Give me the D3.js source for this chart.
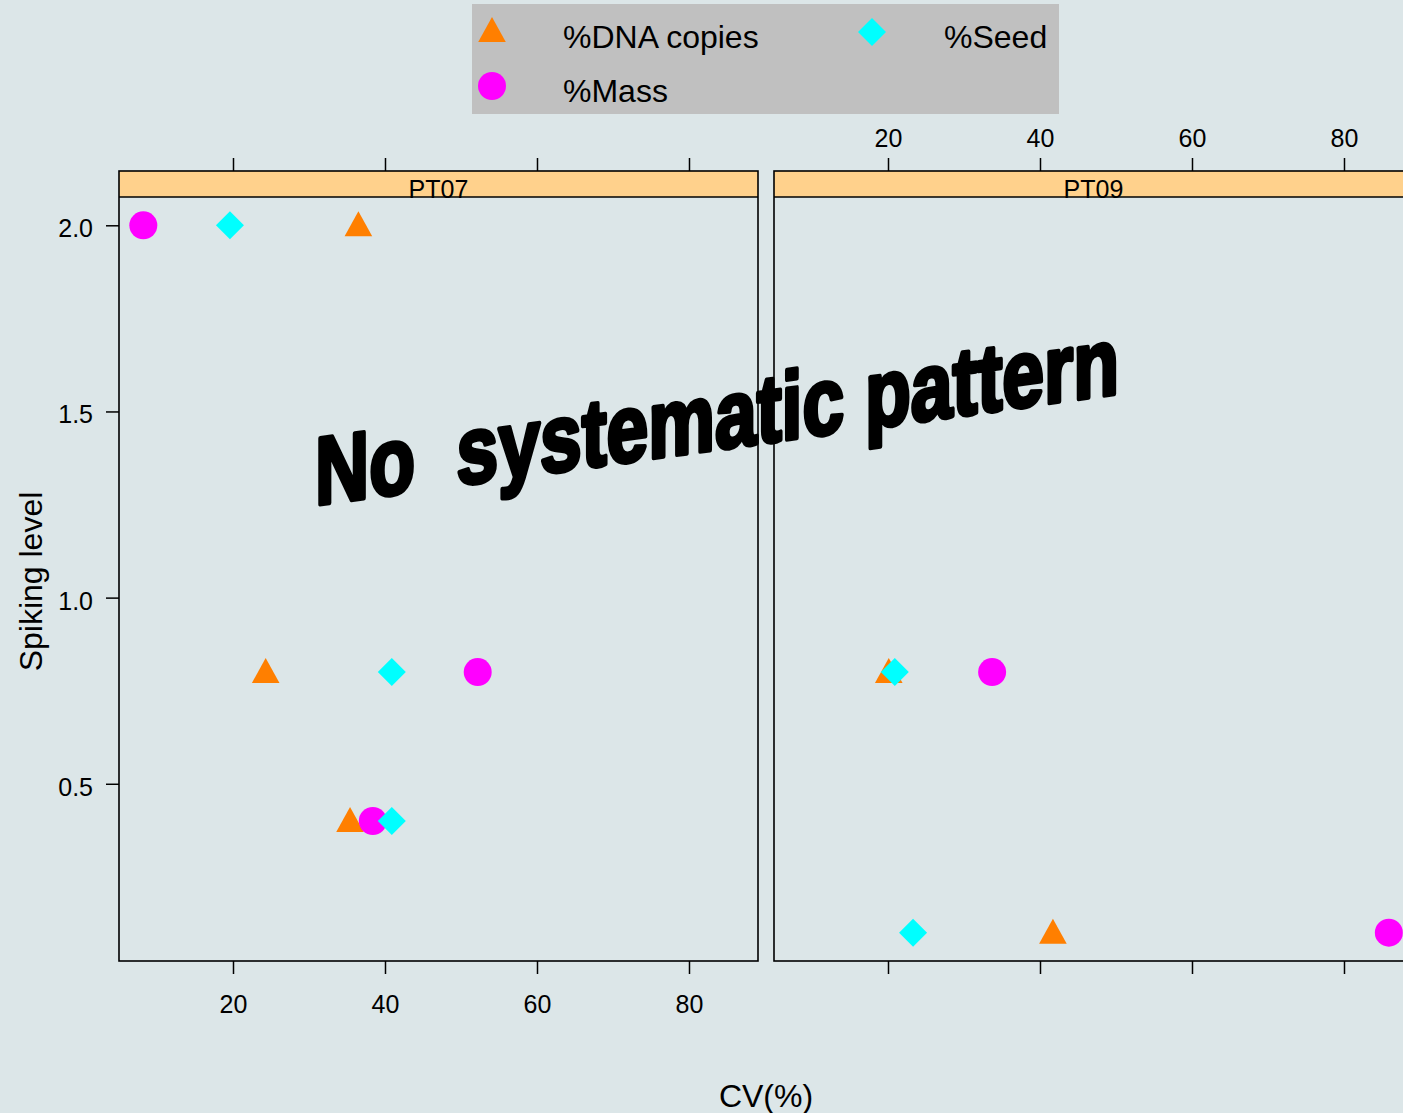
<!DOCTYPE html>
<html>
<head>
<meta charset="utf-8">
<script src="https://cdn.jsdelivr.net/npm/d3@7"></script>
<style>
  html, body { margin: 0; padding: 0; background: #DCE6E8; }
  svg { display: block; font-family: "Liberation Sans", Arial, sans-serif; }
</style>
</head>
<body>
<svg id="chart" width="1403" height="1113"></svg>
<script>
// ---- data ----
const panels = ["PT07", "PT09"];
const seriesNames = ["%DNA copies", "%Mass", "%Seed"];
const seriesShapes = ["triangle", "circle", "diamond"];
const seriesColors = ["#FF7F00", "#FF00FF", "#00FFFF"];

const spikingPT07 = [2.0, 0.8, 0.4];
const dnaPT07  = [36.5, 24.3, 35.4];
const massPT07 = [8.2, 52.2, 38.4];
const seedPT07 = [19.6, 40.9, 40.9];

const spikingPT09 = [0.8, 0.1];
const dnaPT09  = [20.1, 41.7];
const massPT09 = [33.7, 85.9];
const seedPT09 = [20.9, 23.3];

const xTicks = [20, 40, 60, 80];
const yTicks = [0.5, 1.0, 1.5, 2.0];
const yTickLabels = ["0.5", "1.0", "1.5", "2.0"];

const xTitle = "CV(%)";
const yTitle = "Spiking level";
const overlayText = "No  systematic pattern";

// ---- layout ----
const svg = d3.select("#chart");
const W = 1403, H = 1113;
svg.append("rect").attr("width", W).attr("height", H).attr("fill", "#DCE6E8");

const panelW = 639;
const panelLeft = [119, 774];
const stripTop = 171, stripBottom = 197, panelBottom = 961;

const x = d3.scaleLinear().domain([5.0, 89.08]).range([0, panelW]);
const y = d3.scaleLinear().domain([0.024, 2.076]).range([panelBottom, stripBottom]);

const panelData = [
  { sp: spikingPT07, vals: [dnaPT07, massPT07, seedPT07] },
  { sp: spikingPT09, vals: [dnaPT09, massPT09, seedPT09] }
];

function shapePath(shape, cx, cy) {
  if (shape === "triangle") {
    return `M${cx},${cy - 14}L${cx + 13.8},${cy + 11}L${cx - 13.8},${cy + 11}Z`;
  } else if (shape === "diamond") {
    const r = 14;
    return `M${cx},${cy - r}L${cx + r},${cy}L${cx},${cy + r}L${cx - r},${cy}Z`;
  }
  return null;
}

panels.forEach((name, pi) => {
  const g = svg.append("g").attr("transform", `translate(${panelLeft[pi]},0)`);

  // strip
  g.append("rect").attr("x", 0).attr("y", stripTop).attr("width", panelW)
    .attr("height", stripBottom - stripTop).attr("fill", "#FFD18C");
  g.append("text").attr("x", panelW / 2).attr("y", stripBottom + 1)
    .attr("text-anchor", "middle").attr("font-size", 25).attr("fill", "#000").text(name);

  // points
  const pd = panelData[pi];
  seriesNames.forEach((s, si) => {
    pd.sp.forEach((lev, k) => {
      const cx = x(pd.vals[si][k]), cy = y(lev);
      if (seriesShapes[si] === "circle") {
        g.append("circle").attr("cx", cx).attr("cy", cy).attr("r", 14)
          .attr("fill", seriesColors[si]);
      } else {
        g.append("path").attr("d", shapePath(seriesShapes[si], cx, cy))
          .attr("fill", seriesColors[si]);
      }
    });
  });

  // borders
  g.append("rect").attr("x", 0).attr("y", stripTop).attr("width", panelW)
    .attr("height", panelBottom - stripTop).attr("fill", "none")
    .attr("stroke", "#000").attr("stroke-width", 1.6);
  g.append("line").attr("x1", 0).attr("x2", panelW).attr("y1", stripBottom).attr("y2", stripBottom)
    .attr("stroke", "#000").attr("stroke-width", 1.6);

  // top ticks
  const topAxis = d3.axisTop(x).tickValues(xTicks).tickSize(13).tickPadding(11)
    .tickFormat(pi === 1 ? d3.format("d") : () => "");
  const ta = g.append("g").attr("transform", `translate(0,${stripTop})`).call(topAxis);
  ta.select(".domain").remove();
  ta.selectAll("line").attr("stroke", "#000").attr("stroke-width", 1.5);
  ta.selectAll("text").attr("font-size", 25).attr("fill", "#000")
    .attr("font-family", "Liberation Sans, Arial, sans-serif");

  // bottom ticks
  const botAxis = d3.axisBottom(x).tickValues(xTicks).tickSize(13).tickPadding(21)
    .tickFormat(pi === 0 ? d3.format("d") : () => "");
  const ba = g.append("g").attr("transform", `translate(0,${panelBottom})`).call(botAxis);
  ba.select(".domain").remove();
  ba.selectAll("line").attr("stroke", "#000").attr("stroke-width", 1.5);
  ba.selectAll("text").attr("font-size", 25).attr("fill", "#000")
    .attr("font-family", "Liberation Sans, Arial, sans-serif");

  if (pi === 0) {
    const leftAxis = d3.axisLeft(y).tickValues(yTicks).tickSize(13).tickPadding(13)
      .tickFormat((d, i) => yTickLabels[i]);
    const la = g.append("g").call(leftAxis);
    la.select(".domain").remove();
    la.selectAll("line").attr("stroke", "#000").attr("stroke-width", 1.5);
    la.selectAll("text").attr("font-size", 25).attr("fill", "#000").attr("dy", "0.46em")
      .attr("font-family", "Liberation Sans, Arial, sans-serif");
  }
});

// axis titles
svg.append("text").attr("x", 766).attr("y", 1107).attr("text-anchor", "middle")
  .attr("font-size", 32).attr("fill", "#000").text(xTitle);
svg.append("text").attr("transform", "translate(42,581.5) rotate(-90)")
  .attr("text-anchor", "middle").attr("font-size", 32).attr("fill", "#000").text(yTitle);

// legend
const lg = svg.append("g");
lg.append("rect").attr("x", 472).attr("y", 4).attr("width", 587).attr("height", 110).attr("fill", "#C0C0C0");
const legendPos = [
  { mx: 492, my: 31, tx: 563, ty: 48 },
  { mx: 492, my: 86, tx: 563, ty: 102 },
  { mx: 872, my: 32, tx: 944, ty: 48 }
];
seriesNames.forEach((s, si) => {
  const p = legendPos[si];
  if (seriesShapes[si] === "circle") {
    lg.append("circle").attr("cx", p.mx).attr("cy", p.my).attr("r", 14).attr("fill", seriesColors[si]);
  } else {
    lg.append("path").attr("d", shapePath(seriesShapes[si], p.mx, p.my)).attr("fill", seriesColors[si]);
  }
  lg.append("text").attr("x", p.tx).attr("y", p.ty).attr("font-size", 32).attr("fill", "#000").text(s);
});

// overlay annotation
svg.append("text")
  .attr("transform", "translate(315,505) skewY(-7.9)")
  .attr("x", 0).attr("y", 0)
  .attr("font-size", 96).attr("font-weight", "bold")
  .attr("fill", "#000").attr("stroke", "#000").attr("stroke-width", 4.5)
  .attr("stroke-linejoin", "round")
  .attr("textLength", 804).attr("lengthAdjust", "spacingAndGlyphs")
  .style("white-space", "pre")
  .text(overlayText);
</script>
</body>
</html>
